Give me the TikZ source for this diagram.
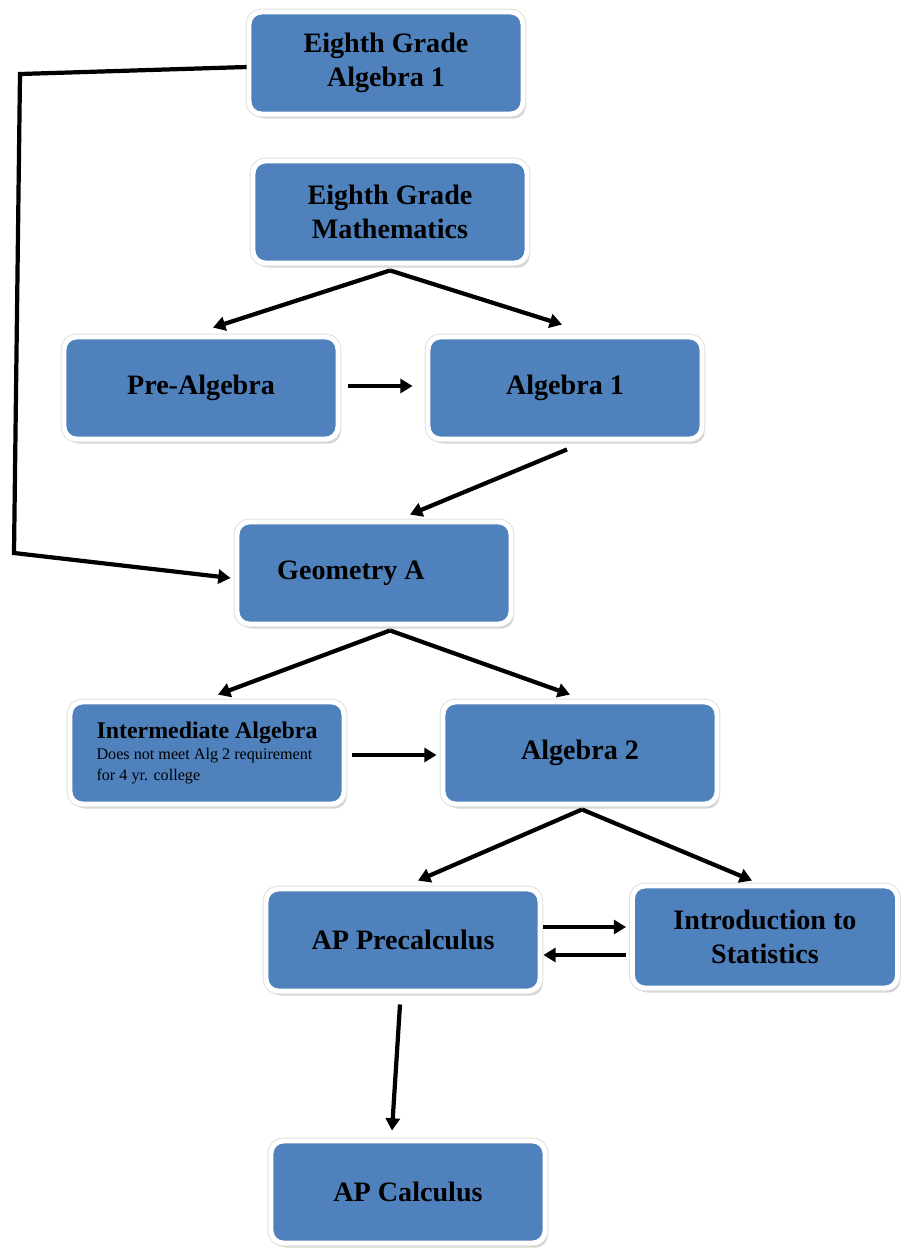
\documentclass[tikz,border=0pt]{standalone}
\usepackage{fontspec}
\setmainfont{Liberation Serif}
\usetikzlibrary{arrows.meta,shadows,calc}
\definecolor{boxblue}{RGB}{79,129,189}
\begin{document}
\begin{tikzpicture}[x=0.02cm, y=-0.02cm,
	course/.style={rectangle, rounded corners=7pt, fill=boxblue, draw=white, line width=2.8pt, minimum width=5.48cm, minimum height=2.04cm, inner sep=0pt, align=center, font=\fontsize{16}{19.3}\selectfont\bfseries, drop shadow={shadow xshift=1.6pt, shadow yshift=-2.6pt, fill=black!35}, preaction={draw=black!12, line width=4pt}},
	flow/.style={line width=2.4pt, -{Triangle[length=7pt,width=8pt]}}]
		\useasboundingbox (0,0) rectangle (903,1249);
		\node[course] (alg8) at (386,63) {Eighth Grade\\Algebra 1};
		\node[course] (math8) at (390,212) {Eighth Grade\\Mathematics};
		\node[course] (pre) at (201,388) {Pre-Algebra};
		\node[course] (alg1) at (565,388) {Algebra 1};
		\node[course] (geo) at (374,573) {Geometry A\hspace{0.92cm}\null};
		\node[course, align=left, font=\fontsize{13.6}{16}\selectfont\bfseries] (inter) at (207,753) {Intermediate Algebra\\[-3.7pt]{\normalfont\fontsize{9.2}{12}\selectfont Does not meet Alg 2 requirement}\\[-4pt]{\normalfont\fontsize{9.2}{12}\selectfont for 4 yr. college}};
		\node[course] (alg2) at (580,753) {Algebra 2};
		\node[course] (precalc) at (403,940) {AP Precalculus};
		\node[course, minimum width=5.3cm] (stats) at (765,937) {Introduction to\\Statistics};
		\node[course] (calc) at (408,1192) {AP Calculus};
		\coordinate (bendtop) at (20,74);
		\coordinate (bendbot) at (14,553);
		\draw[flow] ($(alg8.west)+(0,4)$) -- (bendtop) -- (bendbot) -- ($(geo.west)+(-4,5)$);
		\draw[flow] ($(math8.south)+(0,5)$) -- ($(pre.north)+(12,-7)$);
		\draw[flow] ($(math8.south)+(0,5)$) -- ($(alg1.north)+(-3,-10)$);
		\draw[flow] ($(pre.east)+(8,-2)$) -- ($(alg1.west)+(-13,-2)$);
		\draw[flow] ($(alg1.south)+(2,8)$) -- ($(geo.north)+(36,-5)$);
		\draw[flow] ($(geo.south)+(16,4)$) -- ($(inter.north)+(11,-5)$);
		\draw[flow] ($(geo.south)+(16,4)$) -- ($(alg2.north)+(-10,-5)$);
		\draw[flow] ($(inter.east)+(6,2)$) -- ($(alg2.west)+(-4,2)$);
		\draw[flow] ($(alg2.south)+(2,3)$) -- ($(precalc.north)+(15,-6)$);
		\draw[flow] ($(alg2.south)+(2,3)$) -- ($(stats.north)+(-13,-3)$);
		\draw[flow] ($(precalc.east)+(1,-13)$) -- ($(stats.west)+(-4,-10)$);
		\draw[flow] ($(stats.west)+(-4,18)$) -- ($(precalc.east)+(1,15)$);
		\draw[flow] ($(precalc.south)+(-3,11)$) -- ($(calc.north)+(-16,-8)$);
\end{tikzpicture}
\end{document}
